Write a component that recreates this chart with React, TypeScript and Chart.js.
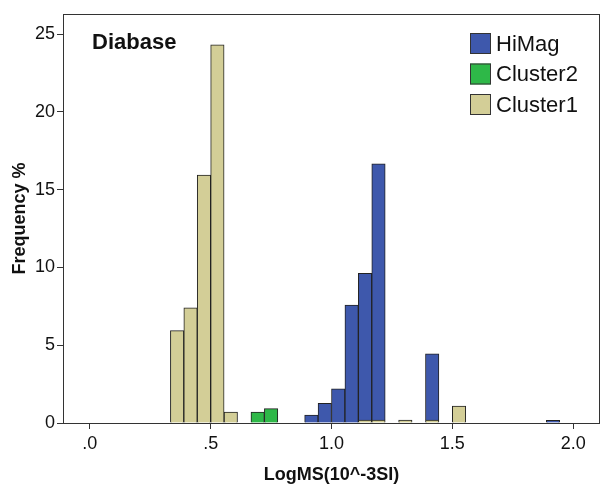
import React, { useEffect, useRef } from "react";
import { Chart, registerables } from "chart.js";

Chart.register(...registerables);

// Histogram bin width (x units) and bin indices: bin k spans [k*w, (k+1)*w]
const binWidth = 1 / 18;
const xMin = -2 / 18;
const xMax = 38 / 18;
const yMax = 26.3;

const cluster1Bins = [6, 7, 8, 9, 10, 20, 21, 23, 25, 27];
const cluster1Pct = [5.94, 7.41, 15.95, 24.31, 0.71, 0.19, 0.19, 0.19, 0.19, 1.09];

const cluster2Bins = [12, 13];
const cluster2Pct = [0.71, 0.92];

const hiMagBins = [16, 17, 18, 19, 20, 21, 25, 34];
const hiMagPct = [0.51, 1.27, 2.19, 7.59, 9.44, 16.47, 4.25, 0.17];

const xTicks = [0, 0.5, 1, 1.5, 2];
const yTicks = [0, 5, 10, 15, 20, 25];

const seriesNames = ["Cluster1", "Cluster2", "HiMag"];
const seriesColors = ["#D3CE97", "#2EB848", "#3E58AC"];

const chartTitle = "Diabase";
const xTitle = "LogMS(10^-3SI)";
const yTitle = "Frequency %";

const toPoints = (bins: number[], vals: number[]) =>
  bins.map((b, i) => ({ x: (b + 0.5) * binWidth, y: vals[i] }));

const FONT = "'Liberation Sans', Arial, sans-serif";

const framePlugin = {
  id: "frame",
  afterDatasetsDraw(chart: any) {
    const { ctx, chartArea } = chart;
    ctx.save();
    ctx.strokeStyle = "#333";
    ctx.lineWidth = 1;
    ctx.strokeRect(
      Math.round(chartArea.left) + 0.5,
      Math.round(chartArea.top) + 0.5,
      Math.round(chartArea.right - chartArea.left) - 1,
      Math.round(chartArea.bottom - chartArea.top)
    );
    ctx.restore();
  },
};

const titlePlugin = {
  id: "insideTitle",
  afterDraw(chart: any) {
    const { ctx, chartArea } = chart;
    ctx.save();
    ctx.font = `bold 22px ${FONT}`;
    ctx.fillStyle = "#111";
    ctx.textAlign = "left";
    ctx.textBaseline = "alphabetic";
    ctx.fillText(chartTitle, chartArea.left + 29, chartArea.top + 35);
    ctx.restore();
  },
};

const legendPlugin = {
  id: "insideLegend",
  afterDraw(chart: any) {
    const { ctx, chartArea } = chart;
    const ds = chart.data.datasets.slice().reverse();
    const x0 = chartArea.right - 130;
    const y0 = chartArea.top + 19;
    const rowH = 30.5;
    const box = 21;
    ctx.save();
    ctx.font = `22px ${FONT}`;
    ctx.textAlign = "left";
    ctx.textBaseline = "middle";
    ds.forEach((d: any, i: number) => {
      const y = y0 + i * rowH;
      ctx.fillStyle = d.backgroundColor;
      ctx.fillRect(x0, y, box, box);
      ctx.strokeStyle = "#333";
      ctx.lineWidth = 1;
      ctx.strokeRect(x0 + 0.5, y + 0.5, box - 1, box - 1);
      ctx.fillStyle = "#111";
      ctx.fillText(d.label, x0 + box + 5, y + box / 2 + 1);
    });
    ctx.restore();
  },
};

export default function App() {
  const ref = useRef<HTMLCanvasElement | null>(null);

  useEffect(() => {
    if (!ref.current) return;
    const datasets = [
      toPoints(cluster1Bins, cluster1Pct),
      toPoints(cluster2Bins, cluster2Pct),
      toPoints(hiMagBins, hiMagPct),
    ].map((data, i) => ({
      label: seriesNames[i],
      data,
      backgroundColor: seriesColors[i],
      borderColor: "#222",
      borderWidth: 1,
      barPercentage: 1,
      categoryPercentage: 1,
    }));

    const chart = new Chart(ref.current, {
      type: "bar",
      data: { datasets },
      plugins: [framePlugin, titlePlugin, legendPlugin],
      options: {
        animation: false,
        responsive: false,
        devicePixelRatio: 1,
        layout: { padding: { top: 14, right: 5, left: 0, bottom: 0 } },
        plugins: {
          legend: { display: false },
          tooltip: { enabled: false },
        },
        scales: {
          x: {
            type: "linear",
            stacked: true,
            offset: false,
            min: xMin,
            max: xMax,
            afterBuildTicks: (axis: any) => {
              axis.ticks = xTicks.map((v) => ({ value: v }));
            },
            afterFit: (axis: any) => {
              axis.height = 74;
            },
            border: { display: false },
            grid: {
              offset: false,
              drawOnChartArea: false,
              drawTicks: true,
              tickLength: 6,
              color: "#333",
            },
            ticks: {
              padding: 4,
              color: "#111",
              font: { family: FONT, size: 18 },
              maxRotation: 0,
              callback: (v: any) => {
                const n = Number(v);
                const s = n.toFixed(1);
                return n < 1 ? s.replace(/^0/, "") : s;
              },
            },
            title: {
              display: true,
              text: xTitle,
              color: "#111",
              font: { family: FONT, size: 18, weight: "bold" },
              padding: { top: 0, bottom: 11 },
            },
          },
          y: {
            type: "linear",
            stacked: true,
            min: 0,
            max: yMax,
            afterBuildTicks: (axis: any) => {
              axis.ticks = yTicks.map((v) => ({ value: v }));
            },
            afterFit: (axis: any) => {
              axis.width = 63;
            },
            border: { display: false },
            grid: {
              drawOnChartArea: false,
              drawTicks: true,
              tickLength: 6,
              color: "#333",
            },
            ticks: {
              padding: 2,
              color: "#111",
              font: { family: FONT, size: 18 },
            },
            title: {
              display: true,
              text: yTitle,
              color: "#111",
              font: { family: FONT, size: 18, weight: "bold" },
              padding: { top: 9, bottom: 0 },
            },
          },
        },
      },
    } as any);
    return () => chart.destroy();
  }, []);

  return (
    <div style={{ position: "absolute", left: 0, top: 0, width: 605, height: 497, background: "#fff" }}>
      <canvas ref={ref} width={605} height={497} style={{ display: "block" }} />
    </div>
  );
}
